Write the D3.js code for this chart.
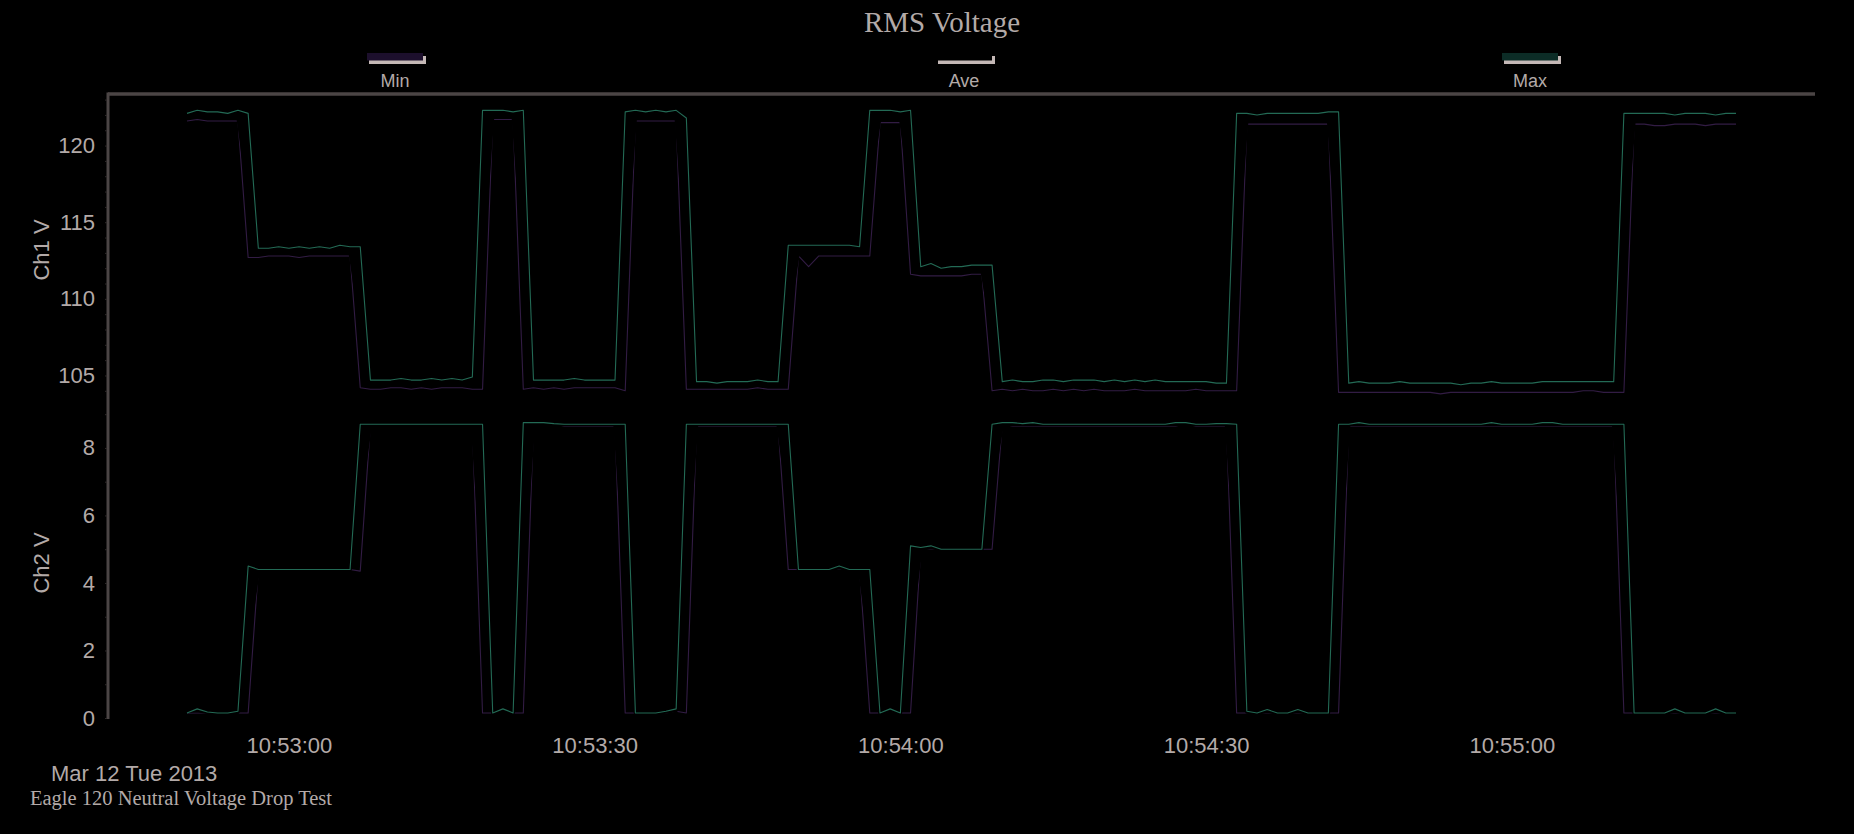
<!DOCTYPE html>
<html>
<head>
<meta charset="utf-8">
<script src="https://cdn.jsdelivr.net/npm/d3@7"></script>
<style>
  html, body { margin: 0; padding: 0; background: #000; overflow: hidden; }
  text { font-family: 'Liberation Sans', Arial, sans-serif; fill: #b3aaa8; }
  .serif { font-family: 'Liberation Serif', 'Times New Roman', serif; }
</style>
</head>
<body>
<div id="container"></div>
<script>
// one sample per second, starting 10:52:50
const startTime = '2013-03-12T10:52:50';

const seriesNames = ['Min', 'Ave', 'Max'];
const timeTicks = ['10:53:00', '10:53:30', '10:54:00', '10:54:30', '10:55:00'];
const ch1Ticks = [105, 110, 115, 120];
const ch2Ticks = [0, 2, 4, 6, 8];

const ch1Min = [
  121.6, 121.7, 121.6, 121.6, 121.6, 121.6,
  112.7, 112.7, 112.8, 112.8, 112.8, 112.7, 112.8, 112.8, 112.8, 112.8, 112.8,
  104.2, 104.1, 104.1, 104.2, 104.2, 104.1, 104.2, 104.1, 104.2, 104.2, 104.2, 104.1, 104.1,
  121.7, 121.7, 121.7,
  104.1, 104.2, 104.1, 104.2, 104.1, 104.2, 104.2, 104.2, 104.2, 104.2, 104.0,
  121.6, 121.6, 121.6, 121.6, 121.6,
  104.1, 104.1, 104.1, 104.1, 104.1, 104.1, 104.1, 104.2, 104.1, 104.1, 104.1,
  112.8, 112.1, 112.8, 112.8, 112.8, 112.8, 112.8, 112.8,
  121.5, 121.5, 121.5,
  111.6, 111.5, 111.5, 111.5, 111.5, 111.5, 111.6, 111.6,
  104.0, 104.1, 104.0, 104.1, 104.0, 104.0, 104.1, 104.0, 104.1, 104.0, 104.1, 104.0, 104.0,
  104.0, 104.1, 104.0, 104.0, 104.0, 104.0, 104.0, 104.1, 104.0, 104.0, 104.0, 104.0,
  121.4, 121.4, 121.4, 121.4, 121.4, 121.4, 121.4, 121.4, 121.4,
  103.9, 103.9, 103.9, 103.9, 103.9, 103.9, 103.9, 103.9, 103.9, 103.9, 103.8, 103.9, 103.9, 103.9,
  103.9, 103.9, 103.9, 103.9, 103.9, 103.9, 103.9, 103.9, 103.9, 103.9, 104.0, 104.0, 103.9, 103.9, 103.9,
  121.4, 121.4, 121.3, 121.3, 121.4, 121.4, 121.4, 121.3, 121.4, 121.4, 121.4
];

const ch1Ave = [
  121.9, 122.0, 121.9, 121.9, 121.9, 121.9,
  117.0,
  113.0, 113.0, 113.1, 113.0, 113.1, 113.0, 113.1, 113.0, 113.1, 113.1,
  108.5,
  104.45, 104.4, 104.4, 104.5, 104.45, 104.4, 104.5, 104.4, 104.5, 104.45, 104.5,
  113.0,
  122.0, 122.0, 122.0,
  113.0,
  104.4, 104.45, 104.4, 104.45, 104.45, 104.45, 104.45, 104.45, 104.45,
  113.0,
  121.9, 122.0, 121.9, 122.0, 121.9,
  113.0,
  104.35, 104.35, 104.3, 104.35, 104.35, 104.35, 104.45, 104.35, 104.35,
  108.8,
  113.1, 112.8, 113.15, 113.15, 113.15, 113.15, 113.1,
  117.5,
  121.9, 121.9, 121.9,
  117.0,
  111.9, 111.75, 111.8, 111.8, 111.85, 111.85, 111.9,
  108.0,
  104.4, 104.35, 104.35, 104.4, 104.35, 104.35, 104.4, 104.35, 104.4, 104.35, 104.35, 104.35,
  104.35, 104.35, 104.35, 104.35, 104.3, 104.3, 104.3, 104.3, 104.3, 104.25, 104.25,
  113.0,
  121.75, 121.7, 121.75, 121.75, 121.75, 121.75, 121.75, 121.75, 121.8,
  113.0,
  104.25, 104.2, 104.2, 104.2, 104.25, 104.2, 104.2, 104.2, 104.2, 104.15, 104.2, 104.2, 104.25, 104.2,
  104.2, 104.2, 104.2, 104.25, 104.25, 104.25, 104.25, 104.25, 104.25, 104.3, 104.3, 104.25, 104.25,
  113.0,
  121.75, 121.75, 121.7, 121.7, 121.75, 121.7, 121.75, 121.75, 121.7, 121.75, 121.75
];

const ch1Max = [
  122.1, 122.3, 122.2, 122.2, 122.1, 122.3, 122.1,
  113.3, 113.3, 113.4, 113.3, 113.4, 113.3, 113.4, 113.3, 113.5, 113.4, 113.4,
  104.7, 104.7, 104.7, 104.8, 104.7, 104.7, 104.8, 104.7, 104.8, 104.7, 104.9,
  122.3, 122.3, 122.3, 122.2, 122.3,
  104.7, 104.7, 104.7, 104.7, 104.8, 104.7, 104.7, 104.7, 104.7,
  122.2, 122.3, 122.2, 122.3, 122.2, 122.3, 121.8,
  104.6, 104.6, 104.5, 104.6, 104.6, 104.6, 104.7, 104.6, 104.6,
  113.5, 113.5, 113.5, 113.5, 113.5, 113.5, 113.5, 113.4,
  122.3, 122.3, 122.3, 122.2, 122.3,
  112.1, 112.3, 112.0, 112.1, 112.1, 112.2, 112.2, 112.2,
  104.6, 104.7, 104.6, 104.6, 104.7, 104.7, 104.6, 104.7, 104.7, 104.7, 104.6, 104.7,
  104.6, 104.7, 104.6, 104.7, 104.6, 104.6, 104.6, 104.6, 104.6, 104.5, 104.5,
  122.1, 122.1, 122.0, 122.1, 122.1, 122.1, 122.1, 122.1, 122.1, 122.2, 122.2,
  104.5, 104.6, 104.5, 104.5, 104.5, 104.6, 104.5, 104.5, 104.5, 104.5, 104.5, 104.4, 104.5, 104.5,
  104.6, 104.5, 104.5, 104.5, 104.5, 104.6, 104.6, 104.6, 104.6, 104.6, 104.6, 104.6, 104.6,
  122.1, 122.1, 122.1, 122.1, 122.1, 122.0, 122.1, 122.1, 122.1, 122.0, 122.1, 122.1
];

const ch2Min = [
  0.15, 0.15, 0.15, 0.15, 0.15, 0.15, 0.15,
  4.4, 4.4, 4.4, 4.4, 4.4, 4.4, 4.4, 4.4, 4.4, 4.4, 4.35,
  8.7, 8.7, 8.7, 8.7, 8.7, 8.7, 8.7, 8.7, 8.7, 8.7, 8.7,
  0.15, 0.15, 0.2, 0.15, 0.15,
  8.7, 8.7, 8.7, 8.65, 8.65, 8.65, 8.65, 8.65, 8.65,
  0.15, 0.15, 0.15, 0.15, 0.15, 0.2, 0.15,
  8.65, 8.65, 8.65, 8.65, 8.65, 8.65, 8.65, 8.65, 8.65,
  4.4, 4.4, 4.4, 4.4, 4.4, 4.4, 4.4, 4.4,
  0.15, 0.15, 0.2, 0.15, 0.15,
  5.0, 5.0, 5.0, 5.0, 5.0, 5.0, 5.0, 5.0,
  8.7, 8.65, 8.65, 8.65, 8.65, 8.65, 8.65, 8.65, 8.65, 8.65, 8.65, 8.65,
  8.65, 8.65, 8.65, 8.65, 8.65, 8.65, 8.7, 8.65, 8.65, 8.65, 8.65,
  0.15, 0.15, 0.15, 0.15, 0.15, 0.15, 0.15, 0.15, 0.15, 0.15, 0.15,
  8.65, 8.65, 8.65, 8.65, 8.65, 8.65, 8.65, 8.65, 8.65, 8.65, 8.65, 8.65, 8.65, 8.65,
  8.65, 8.65, 8.65, 8.65, 8.65, 8.65, 8.65, 8.65, 8.65, 8.65, 8.65, 8.65, 8.65,
  0.15, 0.15, 0.15, 0.15, 0.15, 0.15, 0.15, 0.15, 0.15, 0.15, 0.15, 0.15
];

const ch2Ave = [
  0.2, 0.22, 0.17, 0.15, 0.15, 0.17,
  2.3,
  4.4, 4.4, 4.4, 4.4, 4.4, 4.4, 4.4, 4.4, 4.4, 4.4,
  6.5,
  8.7, 8.7, 8.7, 8.7, 8.7, 8.7, 8.7, 8.7, 8.7, 8.7, 8.7,
  4.4,
  0.15, 0.22, 0.15,
  4.4,
  8.7, 8.7, 8.7, 8.7, 8.7, 8.7, 8.7, 8.7, 8.7,
  4.4,
  0.15, 0.15, 0.15, 0.18, 0.22,
  4.4,
  8.7, 8.7, 8.7, 8.7, 8.7, 8.7, 8.7, 8.7, 8.7,
  6.5,
  4.4, 4.4, 4.4, 4.4, 4.45, 4.4, 4.4,
  2.2,
  0.15, 0.23, 0.15,
  2.6,
  5.0, 5.05, 5.0, 5.0, 5.0, 5.0, 5.0,
  6.9,
  8.7, 8.7, 8.7, 8.7, 8.7, 8.7, 8.7, 8.7, 8.7, 8.7, 8.7, 8.7,
  8.7, 8.7, 8.7, 8.7, 8.7, 8.7, 8.7, 8.7, 8.7, 8.7, 8.7,
  4.4,
  0.18, 0.15, 0.2, 0.15, 0.15, 0.2, 0.15, 0.15, 0.15,
  4.4,
  8.7, 8.7, 8.7, 8.7, 8.7, 8.7, 8.7, 8.7, 8.7, 8.7, 8.7, 8.7, 8.7, 8.7,
  8.7, 8.7, 8.7, 8.7, 8.7, 8.7, 8.7, 8.7, 8.7, 8.7, 8.7, 8.7, 8.7,
  4.4,
  0.15, 0.15, 0.15, 0.15, 0.2, 0.15, 0.15, 0.15, 0.2, 0.15, 0.15
];

const ch2Max = [
  0.15, 0.27, 0.18, 0.15, 0.15, 0.2,
  4.5, 4.4, 4.4, 4.4, 4.4, 4.4, 4.4, 4.4, 4.4, 4.4, 4.4,
  8.7, 8.7, 8.7, 8.7, 8.7, 8.7, 8.7, 8.7, 8.7, 8.7, 8.7, 8.7, 8.7,
  0.15, 0.27, 0.15,
  8.75, 8.75, 8.75, 8.72, 8.7, 8.7, 8.7, 8.7, 8.7, 8.7, 8.7,
  0.15, 0.15, 0.15, 0.2, 0.27,
  8.7, 8.7, 8.7, 8.7, 8.7, 8.7, 8.7, 8.7, 8.7, 8.7, 8.7,
  4.4, 4.4, 4.4, 4.4, 4.5, 4.4, 4.4, 4.4,
  0.15, 0.27, 0.15,
  5.1, 5.05, 5.1, 5.0, 5.0, 5.0, 5.0, 5.0,
  8.7, 8.75, 8.75, 8.72, 8.75, 8.7, 8.7, 8.7, 8.7, 8.7, 8.7, 8.7, 8.7,
  8.7, 8.7, 8.7, 8.7, 8.7, 8.75, 8.75, 8.7, 8.7, 8.72, 8.72, 8.7,
  0.2, 0.15, 0.25, 0.15, 0.15, 0.25, 0.15, 0.15, 0.15,
  8.7, 8.7, 8.75, 8.7, 8.7, 8.7, 8.7, 8.7, 8.7, 8.7, 8.7, 8.7, 8.7, 8.7, 8.7,
  8.75, 8.7, 8.7, 8.7, 8.7, 8.75, 8.75, 8.7, 8.7, 8.7, 8.7, 8.7, 8.7, 8.7,
  0.15, 0.15, 0.15, 0.15, 0.27, 0.15, 0.15, 0.15, 0.27, 0.15, 0.15
];

const svgWidth = 1854;
const svgHeight = 834;
const plotLeft = 108;
const plotRight = 1815;
const plotTop = 94;
const plotBottom = 719;

const lineColors = { Min: '#321c44', Ave: '#000000', Max: '#236a55' };
const swatchColors = { Min: '#1c0f2c', Ave: '#000000', Max: '#0c2c26' };

const svg = d3
  .select('#container')
  .append('svg')
  .attr('width', svgWidth)
  .attr('height', svgHeight)
  .style('background', '#000');

// X scale (time)
const parseTime = d3.timeParse('%Y-%m-%dT%H:%M:%S');
const t0 = parseTime(startTime);
const times = ch1Max.map((d, i) => d3.timeSecond.offset(t0, i));

const xScale = d3
  .scaleTime()
  .domain([times[0], times[times.length - 1]])
  .range([187, 1736]);

// Y scales, two stacked panels
const y1 = d3.scaleLinear().domain([103.4, 123.3]).range([400, 95]);
const y2 = d3.scaleLinear().domain([0, 9.42]).range([718, 400]);

// Frame
svg
  .append('line')
  .attr('x1', plotLeft)
  .attr('x2', plotRight)
  .attr('y1', plotTop)
  .attr('y2', plotTop)
  .attr('stroke', '#4b4545')
  .attr('stroke-width', 3.5);

svg
  .append('line')
  .attr('x1', plotLeft)
  .attr('x2', plotLeft)
  .attr('y1', plotTop - 1.5)
  .attr('y2', plotBottom)
  .attr('stroke', '#4b4545')
  .attr('stroke-width', 3);

// Y axes
const drawYAxis = (scale, ticks, minor, title, titleY) => {
  const minorAxis = d3.axisLeft(scale).tickValues(minor).tickSize(2).tickFormat('');
  svg
    .append('g')
    .attr('transform', `translate(${plotLeft - 1},0)`)
    .call(minorAxis)
    .call(g => g.select('.domain').remove())
    .call(g => g.selectAll('line').attr('stroke', '#302b2b'));

  const axis = d3.axisLeft(scale).tickValues(ticks).tickSize(0).tickPadding(13);
  svg
    .append('g')
    .attr('transform', `translate(${plotLeft},0)`)
    .call(axis)
    .call(g => g.select('.domain').remove())
    .call(g =>
      g
        .selectAll('text')
        .style('font-family', "'Liberation Sans', Arial, sans-serif")
        .style('font-size', '22px')
        .attr('fill', '#b3aaa8')
    );

  svg
    .append('text')
    .attr('transform', `translate(49,${titleY}) rotate(-90)`)
    .attr('text-anchor', 'middle')
    .style('font-size', '22px')
    .text(title);
};

drawYAxis(y1, ch1Ticks, d3.range(104, 124), 'Ch1 V', 250);
drawYAxis(y2, ch2Ticks, d3.range(0, 10), 'Ch2 V', 563);

// X axis (labels only)
const xAxis = d3
  .axisBottom(xScale)
  .tickValues(timeTicks.map(s => parseTime(`2013-03-12T${s}`)))
  .tickFormat(d3.timeFormat('%H:%M:%S'))
  .tickSize(0)
  .tickPadding(19);

svg
  .append('g')
  .attr('transform', `translate(0,${718})`)
  .call(xAxis)
  .call(g => g.select('.domain').remove())
  .call(g =>
    g
      .selectAll('text')
      .style('font-family', "'Liberation Sans', Arial, sans-serif")
      .style('font-size', '22px')
      .attr('fill', '#b3aaa8')
  );

// Lines
const channels = [
  { y: y1, data: { Min: ch1Min, Ave: ch1Ave, Max: ch1Max } },
  { y: y2, data: { Min: ch2Min, Ave: ch2Ave, Max: ch2Max } }
];

channels.forEach(ch => {
  const line = d3
    .line()
    .x((d, i) => xScale(times[i]))
    .y(d => ch.y(d));

  seriesNames.forEach(name => {
    svg
      .append('path')
      .datum(ch.data[name])
      .attr('d', line)
      .attr('fill', 'none')
      .attr('stroke', lineColors[name])
      .attr('stroke-width', name === 'Ave' ? 3.5 : 1.1)
      .attr('stroke-linejoin', 'round');
  });
});

// Title
svg
  .append('text')
  .attr('class', 'serif')
  .attr('x', 942)
  .attr('y', 32)
  .attr('text-anchor', 'middle')
  .style('font-size', '29px')
  .attr('fill', '#a39b99')
  .text('RMS Voltage');

// Legend
const legendX = { Min: 367, Ave: 936, Max: 1502 };

seriesNames.forEach(name => {
  const g = svg.append('g').attr('transform', `translate(${legendX[name]},53)`);
  g.append('rect')
    .attr('x', 2)
    .attr('y', 3)
    .attr('width', 57)
    .attr('height', 8)
    .attr('fill', '#c4b8b6');
  g.append('rect')
    .attr('x', 0)
    .attr('y', 0)
    .attr('width', 56)
    .attr('height', 7.5)
    .attr('fill', swatchColors[name]);
  g.append('text')
    .attr('x', 28)
    .attr('y', 34)
    .attr('text-anchor', 'middle')
    .style('font-size', '18px')
    .text(name);
});

// Footer
svg
  .append('text')
  .attr('x', 51)
  .attr('y', 781)
  .style('font-size', '22px')
  .text('Mar 12 Tue 2013');

svg
  .append('text')
  .attr('class', 'serif')
  .attr('x', 30)
  .attr('y', 805)
  .style('font-size', '20.5px')
  .text('Eagle 120 Neutral Voltage Drop Test');
</script>
</body>
</html>
